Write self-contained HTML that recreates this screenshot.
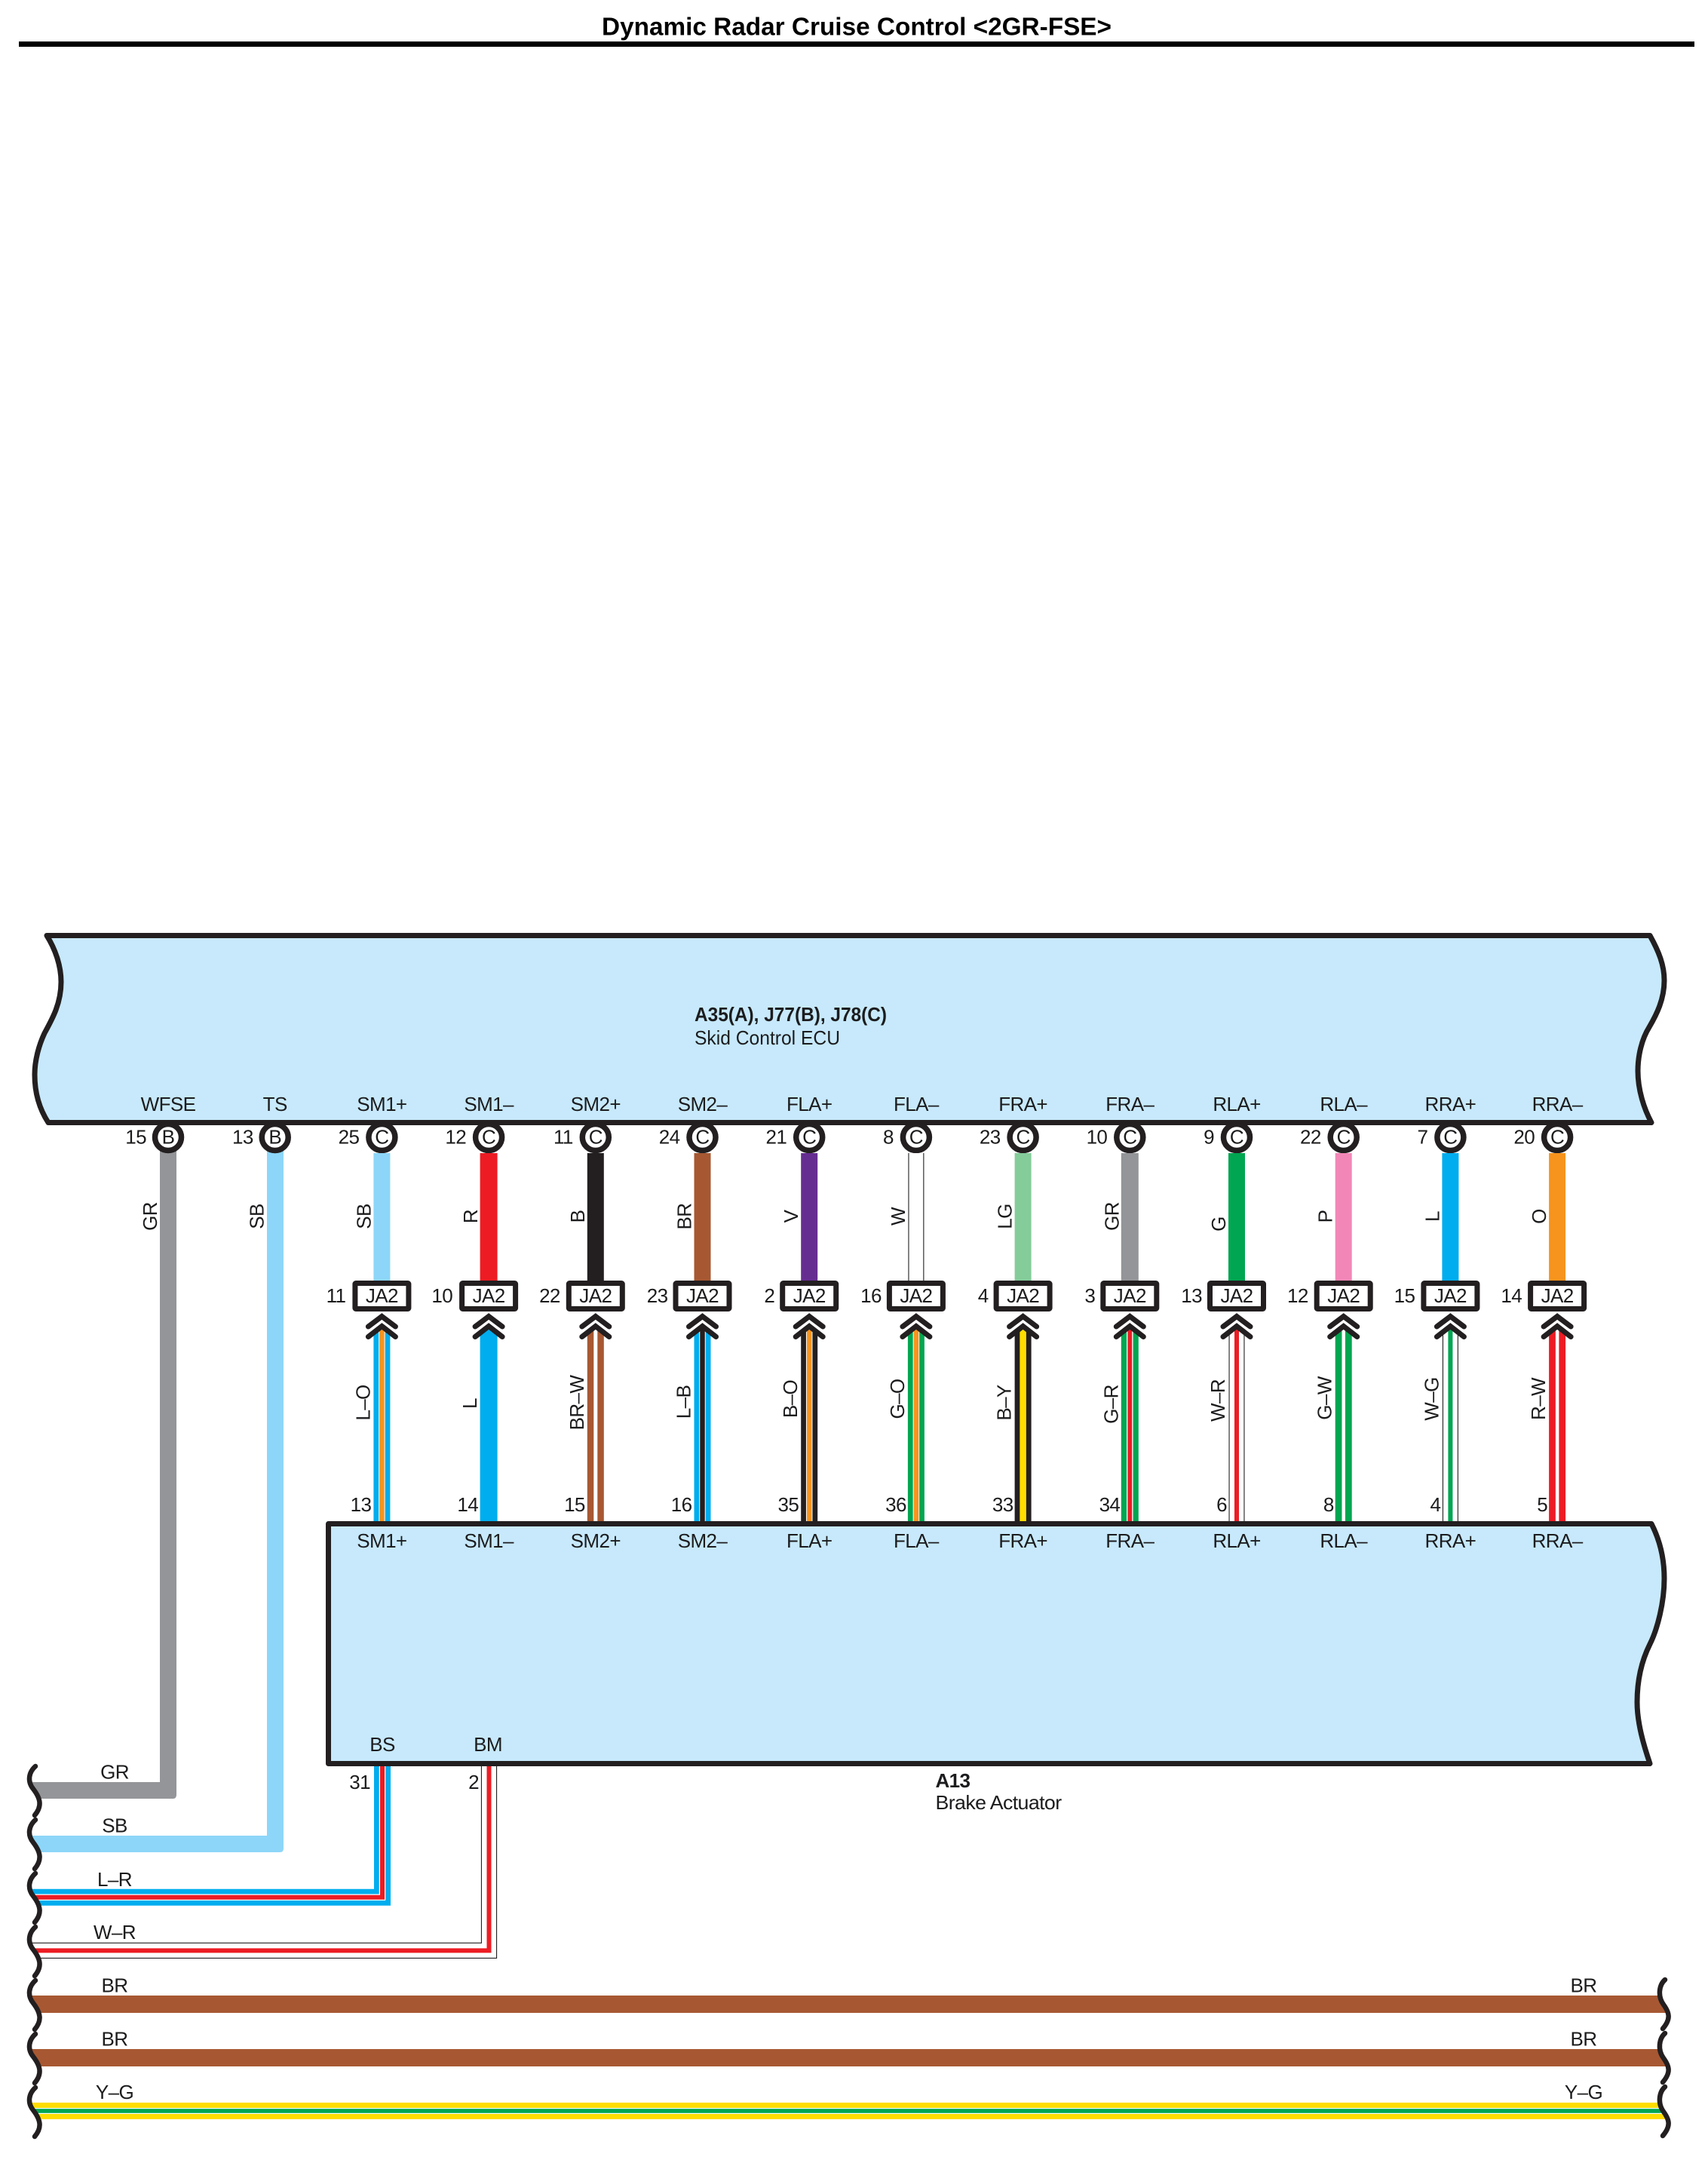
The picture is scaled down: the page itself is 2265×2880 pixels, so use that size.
<!DOCTYPE html>
<html>
<head>
<meta charset="utf-8">
<title>Dynamic Radar Cruise Control</title>
<style>
html,body{margin:0;padding:0;background:#fff}
svg{display:block}
text{font-family:"Liberation Sans",sans-serif;font-size:26px;letter-spacing:-.6px;fill:#1c1c1e}
.m{text-anchor:middle}
.e{text-anchor:end}
.b{font-weight:bold}
</style>
</head>
<body>
<svg xmlns="http://www.w3.org/2000/svg" width="2265" height="2880" viewBox="0 0 2265 2880">
<defs>
<g id="conn">
<polygon points="-26,1745 26,1745 26,1773 18,1772.5 0,1758.5 -18,1772.5 -26,1773" fill="#fff"/>
<rect x="-35.5" y="1701.5" width="71" height="34" rx="1" fill="#fff" stroke="#231f20" stroke-width="7"/>
<polyline points="-18,1759 0,1745.5 18,1759" fill="none" stroke="#231f20" stroke-width="7" stroke-linecap="round"/>
<polyline points="-18,1772.5 0,1758.5 18,1772.5" fill="none" stroke="#231f20" stroke-width="7" stroke-linecap="round"/>
</g>
<path id="sl" d="M47 0C38 8 36 20 44 30C54 43 56 53 46 65"/>
<path id="slf" d="M47 0C38 8 36 20 44 30C54 43 56 53 46 65L0 65L0 0Z"/>
<path id="sr" d="M2208 0C2200 7 2198 22 2206 33C2214 44 2216 52 2205 65"/>
<path id="srf" d="M2208 0C2200 7 2198 22 2206 33C2214 44 2216 52 2205 65L2265 65L2265 0Z"/>
<circle id="c" cx="0" cy="1508" r="17.5" fill="#fff" stroke="#231f20" stroke-width="7.5"/>
</defs>

<rect width="2265" height="2880" fill="#fff"/>

<!-- title -->
<text x="798" y="46.5" class="b" style="font-size:33px;letter-spacing:0;fill:#000" textLength="676" lengthAdjust="spacingAndGlyphs">Dynamic Radar Cruise Control &lt;2GR-FSE&gt;</text>
<rect x="25" y="55" width="2222" height="7" fill="#000"/>

<!-- long wires -->
<path d="M30 2363H212V1520H234V2380Q234 2385 229 2385H30Z" fill="#939598"/>
<path d="M30 2434H354V1520H376V2451Q376 2456 371 2456H30Z" fill="#8dd6f9"/>
<path d="M30 2515.7H507V2330" fill="none" stroke="#00adee" stroke-width="22"/>
<path d="M30 2515.7H507V2330" fill="none" stroke="#fff" stroke-width="8.5"/>
<path d="M30 2515.7H507V2330" fill="none" stroke="#ed1c24" stroke-width="6"/>
<path d="M30 2586.4H648.5V2330" fill="none" stroke="#231f20" stroke-width="21.2"/>
<path d="M30 2586.4H648.5V2330" fill="none" stroke="#fff" stroke-width="19"/>
<path d="M30 2586.4H648.5V2330" fill="none" stroke="#ed1c24" stroke-width="6"/>
<rect x="30" y="2646" width="2200" height="23" fill="#a75832"/>
<rect x="30" y="2717" width="2200" height="23" fill="#a75832"/>
<rect x="30" y="2788" width="2200" height="22" fill="#ffdd00"/>
<rect x="30" y="2795" width="2200" height="8" fill="#fff"/>
<rect x="30" y="2796.2" width="2200" height="5.6" fill="#00a651"/>

<!-- squiggles left -->
<g fill="#fff">
<use href="#slf" y="2342"/><use href="#slf" y="2413"/><use href="#slf" y="2484"/><use href="#slf" y="2555"/><use href="#slf" y="2626"/><use href="#slf" y="2697"/><use href="#slf" y="2768"/>
<use href="#srf" y="2625"/><use href="#srf" y="2696"/><use href="#srf" y="2767"/>
</g>
<g fill="none" stroke="#231f20" stroke-width="6.5" stroke-linecap="round">
<use href="#sl" y="2342"/><use href="#sl" y="2413"/><use href="#sl" y="2484"/><use href="#sl" y="2555"/><use href="#sl" y="2626"/><use href="#sl" y="2697"/><use href="#sl" y="2768"/>
<use href="#sr" y="2625"/><use href="#sr" y="2696"/><use href="#sr" y="2767"/>
</g>

<!-- columns -->
<g transform="translate(223,0)">
<use href="#c"/>
<text x="-29" y="1516.5" class="e">15</text><text y="1516.5" class="m">B</text>
<text transform="translate(-15,1613) rotate(-90)" class="m">GR</text>
</g>
<g transform="translate(364.7,0)">
<use href="#c"/>
<text x="-29" y="1516.5" class="e">13</text><text y="1516.5" class="m">B</text>
<text transform="translate(-15,1613) rotate(-90)" class="m">SB</text>
</g>

<g transform="translate(506.4,0)">
<use href="#c"/>
<rect x="-11" y="1529" width="22" height="176" fill="#8dd6f9"/>
<rect x="-11" y="1750" width="22" height="272" fill="#00adee"/>
<rect x="-4.25" y="1750" width="8.5" height="272" fill="#fff"/>
<rect x="-3.25" y="1750" width="6.5" height="272" fill="#f7941d"/>
<use href="#conn"/>
<text x="-30" y="1516.5" class="e">25</text><text y="1516.5" class="m">C</text>
<text transform="translate(-15,1613) rotate(-90)" class="m">SB</text>
<text x="-48" y="1727" class="e">11</text><text y="1727" class="m">JA2</text>
<text transform="translate(-16,1860) rotate(-90)" class="m">L–O</text>
<text x="-14" y="2004" class="e">13</text>
</g>

<g transform="translate(648.1,0)">
<use href="#c"/>
<rect x="-11.5" y="1529" width="23" height="176" fill="#ed1c24"/>
<rect x="-11.5" y="1750" width="23" height="272" fill="#00adee"/>
<use href="#conn"/>
<text x="-30" y="1516.5" class="e">12</text><text y="1516.5" class="m">C</text>
<text transform="translate(-15,1613) rotate(-90)" class="m">R</text>
<text x="-48" y="1727" class="e">10</text><text y="1727" class="m">JA2</text>
<text transform="translate(-16,1861) rotate(-90)" class="m">L</text>
<text x="-14" y="2004" class="e">14</text>
</g>

<g transform="translate(789.8,0)">
<use href="#c"/>
<rect x="-11" y="1529" width="22" height="176" fill="#231f20"/>
<rect x="-11" y="1750" width="22" height="272" fill="#a75832"/>
<rect x="-2.5" y="1750" width="5" height="272" fill="#fff"/>
<use href="#conn"/>
<text x="-30" y="1516.5" class="e">11</text><text y="1516.5" class="m">C</text>
<text transform="translate(-15,1613) rotate(-90)" class="m">B</text>
<text x="-47" y="1727" class="e">22</text><text y="1727" class="m">JA2</text>
<text transform="translate(-16,1860) rotate(-90)" class="m">BR–W</text>
<text x="-14" y="2004" class="e">15</text>
</g>

<g transform="translate(931.5,0)">
<use href="#c"/>
<rect x="-11" y="1529" width="22" height="176" fill="#a75832"/>
<rect x="-11" y="1750" width="22" height="272" fill="#00adee"/>
<rect x="-4.25" y="1750" width="8.5" height="272" fill="#fff"/>
<rect x="-3.25" y="1750" width="6.5" height="272" fill="#231f20"/>
<use href="#conn"/>
<text x="-30" y="1516.5" class="e">24</text><text y="1516.5" class="m">C</text>
<text transform="translate(-15,1613) rotate(-90)" class="m">BR</text>
<text x="-46" y="1727" class="e">23</text><text y="1727" class="m">JA2</text>
<text transform="translate(-16,1859) rotate(-90)" class="m">L–B</text>
<text x="-14" y="2004" class="e">16</text>
</g>

<g transform="translate(1073.2,0)">
<use href="#c"/>
<rect x="-11" y="1529" width="22" height="176" fill="#662d91"/>
<rect x="-11" y="1750" width="22" height="272" fill="#231f20"/>
<rect x="-4.25" y="1750" width="8.5" height="272" fill="#fff"/>
<rect x="-3.25" y="1750" width="6.5" height="272" fill="#f7941d"/>
<use href="#conn"/>
<text x="-30" y="1516.5" class="e">21</text><text y="1516.5" class="m">C</text>
<text transform="translate(-15,1613) rotate(-90)" class="m">V</text>
<text x="-46" y="1727" class="e">2</text><text y="1727" class="m">JA2</text>
<text transform="translate(-16,1855) rotate(-90)" class="m">B–O</text>
<text x="-14" y="2004" class="e">35</text>
</g>

<g transform="translate(1214.9,0)">
<use href="#c"/>
<rect x="-10.5" y="1529" width="21" height="176" fill="#231f20"/>
<rect x="-9.4" y="1529" width="18.8" height="176" fill="#fff"/>
<rect x="-11" y="1750" width="22" height="272" fill="#00a651"/>
<rect x="-4.25" y="1750" width="8.5" height="272" fill="#fff"/>
<rect x="-3.25" y="1750" width="6.5" height="272" fill="#f7941d"/>
<use href="#conn"/>
<text x="-30" y="1516.5" class="e">8</text><text y="1516.5" class="m">C</text>
<text transform="translate(-15,1613) rotate(-90)" class="m">W</text>
<text x="-46" y="1727" class="e">16</text><text y="1727" class="m">JA2</text>
<text transform="translate(-16,1855) rotate(-90)" class="m">G–O</text>
<text x="-13" y="2004" class="e">36</text>
</g>

<g transform="translate(1356.6,0)">
<use href="#c"/>
<rect x="-11" y="1529" width="22" height="176" fill="#84cc9a"/>
<rect x="-11" y="1750" width="22" height="272" fill="#231f20"/>
<rect x="-4.25" y="1750" width="8.5" height="272" fill="#ffdd00"/>
<use href="#conn"/>
<text x="-30" y="1516.5" class="e">23</text><text y="1516.5" class="m">C</text>
<text transform="translate(-15,1613) rotate(-90)" class="m">LG</text>
<text x="-46" y="1727" class="e">4</text><text y="1727" class="m">JA2</text>
<text transform="translate(-16,1860) rotate(-90)" class="m">B–Y</text>
<text x="-13" y="2004" class="e">33</text>
</g>

<g transform="translate(1498.3,0)">
<use href="#c"/>
<rect x="-11.5" y="1529" width="23" height="176" fill="#939598"/>
<rect x="-11.5" y="1750" width="23" height="272" fill="#00a651"/>
<rect x="-4.25" y="1750" width="8.5" height="272" fill="#fff"/>
<rect x="-2.9" y="1750" width="5.8" height="272" fill="#ed1c24"/>
<use href="#conn"/>
<text x="-30" y="1516.5" class="e">10</text><text y="1516.5" class="m">C</text>
<text transform="translate(-15,1613) rotate(-90)" class="m">GR</text>
<text x="-46" y="1727" class="e">3</text><text y="1727" class="m">JA2</text>
<text transform="translate(-16,1862) rotate(-90)" class="m">G–R</text>
<text x="-13" y="2004" class="e">34</text>
</g>

<g transform="translate(1640,0)">
<use href="#c"/>
<rect x="-11" y="1529" width="22" height="176" fill="#00a651"/>
<rect x="-10.5" y="1750" width="21" height="272" fill="#231f20"/>
<rect x="-9.4" y="1750" width="18.8" height="272" fill="#fff"/>
<rect x="-3" y="1750" width="6" height="272" fill="#ed1c24"/>
<use href="#conn"/>
<text x="-30" y="1516.5" class="e">9</text><text y="1516.5" class="m">C</text>
<text transform="translate(-15,1623) rotate(-90)" class="m">G</text>
<text x="-46" y="1727" class="e">13</text><text y="1727" class="m">JA2</text>
<text transform="translate(-16,1857) rotate(-90)" class="m">W–R</text>
<text x="-13" y="2004" class="e">6</text>
</g>

<g transform="translate(1781.7,0)">
<use href="#c"/>
<rect x="-11" y="1529" width="22" height="176" fill="#f287b7"/>
<rect x="-11" y="1750" width="22" height="272" fill="#00a651"/>
<rect x="-2.25" y="1750" width="4.5" height="272" fill="#fff"/>
<use href="#conn"/>
<text x="-30" y="1516.5" class="e">22</text><text y="1516.5" class="m">C</text>
<text transform="translate(-15,1613) rotate(-90)" class="m">P</text>
<text x="-47" y="1727" class="e">12</text><text y="1727" class="m">JA2</text>
<text transform="translate(-16,1854) rotate(-90)" class="m">G–W</text>
<text x="-13" y="2004" class="e">8</text>
</g>

<g transform="translate(1923.4,0)">
<use href="#c"/>
<rect x="-11" y="1529" width="22" height="176" fill="#00adee"/>
<rect x="-10.5" y="1750" width="21" height="272" fill="#231f20"/>
<rect x="-9.4" y="1750" width="18.8" height="272" fill="#fff"/>
<rect x="-3" y="1750" width="6" height="272" fill="#00a651"/>
<use href="#conn"/>
<text x="-30" y="1516.5" class="e">7</text><text y="1516.5" class="m">C</text>
<text transform="translate(-15,1613) rotate(-90)" class="m">L</text>
<text x="-47" y="1727" class="e">15</text><text y="1727" class="m">JA2</text>
<text transform="translate(-16,1855) rotate(-90)" class="m">W–G</text>
<text x="-13" y="2004" class="e">4</text>
</g>

<g transform="translate(2065.1,0)">
<use href="#c"/>
<rect x="-11" y="1529" width="22" height="176" fill="#f7941d"/>
<rect x="-11" y="1750" width="22" height="272" fill="#ed1c24"/>
<rect x="-2.25" y="1750" width="4.5" height="272" fill="#fff"/>
<use href="#conn"/>
<text x="-30" y="1516.5" class="e">20</text><text y="1516.5" class="m">C</text>
<text transform="translate(-15,1613) rotate(-90)" class="m">O</text>
<text x="-47" y="1727" class="e">14</text><text y="1727" class="m">JA2</text>
<text transform="translate(-16,1855) rotate(-90)" class="m">R–W</text>
<text x="-13" y="2004" class="e">5</text>
</g>

<!-- top box -->
<path d="M62 1240.5H2188C2200 1262 2207 1280 2207 1300C2207 1325 2197 1345 2187 1362C2177 1378 2172 1400 2172 1420C2172 1445 2180 1470 2190 1488.5H64C52 1470 46 1450 46 1425C46 1405 52 1385 59 1370C70 1350 81 1330 81 1302C81 1280 73 1258 62 1240.5Z" fill="#c7e9fb" stroke="#231f20" stroke-width="7" stroke-linejoin="round"/>
<text x="921" y="1354" class="b" style="letter-spacing:0" textLength="255" lengthAdjust="spacingAndGlyphs">A35(A), J77(B), J78(C)</text>
<text x="921" y="1385" style="letter-spacing:0" textLength="193" lengthAdjust="spacingAndGlyphs">Skid Control ECU</text>
<text x="223" y="1473" class="m">WFSE</text>
<text x="364.7" y="1473" class="m">TS</text>
<text x="506.4" y="1473" class="m">SM1+</text>
<text x="648.1" y="1473" class="m">SM1–</text>
<text x="789.8" y="1473" class="m">SM2+</text>
<text x="931.5" y="1473" class="m">SM2–</text>
<text x="1073.2" y="1473" class="m">FLA+</text>
<text x="1214.9" y="1473" class="m">FLA–</text>
<text x="1356.6" y="1473" class="m">FRA+</text>
<text x="1498.3" y="1473" class="m">FRA–</text>
<text x="1640" y="1473" class="m">RLA+</text>
<text x="1781.7" y="1473" class="m">RLA–</text>
<text x="1923.4" y="1473" class="m">RRA+</text>
<text x="2065.1" y="1473" class="m">RRA–</text>

<!-- lower box -->
<path d="M435.5 2020.5H2190C2200 2040 2207 2065 2207 2093C2207 2125 2198 2160 2188 2180C2178 2200 2171 2225 2171 2257C2171 2285 2180 2315 2188 2338.5H435.5Z" fill="#c7e9fb" stroke="#231f20" stroke-width="7" stroke-linejoin="round"/>
<text x="506.4" y="2052" class="m">SM1+</text>
<text x="648.1" y="2052" class="m">SM1–</text>
<text x="789.8" y="2052" class="m">SM2+</text>
<text x="931.5" y="2052" class="m">SM2–</text>
<text x="1073.2" y="2052" class="m">FLA+</text>
<text x="1214.9" y="2052" class="m">FLA–</text>
<text x="1356.6" y="2052" class="m">FRA+</text>
<text x="1498.3" y="2052" class="m">FRA–</text>
<text x="1640" y="2052" class="m">RLA+</text>
<text x="1781.7" y="2052" class="m">RLA–</text>
<text x="1923.4" y="2052" class="m">RRA+</text>
<text x="2065.1" y="2052" class="m">RRA–</text>
<text x="507" y="2322" class="m">BS</text>
<text x="647" y="2322" class="m">BM</text>

<text x="491" y="2372" class="e">31</text>
<text x="635" y="2372" class="e">2</text>
<text x="1240.5" y="2370" class="b">A13</text>
<text x="1240.5" y="2399" textLength="167" lengthAdjust="spacingAndGlyphs">Brake Actuator</text>

<!-- wire labels -->
<text x="152" y="2358.5" class="m">GR</text>
<text x="152" y="2429.5" class="m">SB</text>
<text x="152" y="2501" class="m">L–R</text>
<text x="152" y="2571" class="m">W–R</text>
<text x="152" y="2641.5" class="m">BR</text>
<text x="152" y="2712.5" class="m">BR</text>
<text x="152" y="2783" class="m">Y–G</text>
<text x="2100" y="2641.5" class="m">BR</text>
<text x="2100" y="2712.5" class="m">BR</text>
<text x="2100" y="2783" class="m">Y–G</text>
</svg>
</body>
</html>
